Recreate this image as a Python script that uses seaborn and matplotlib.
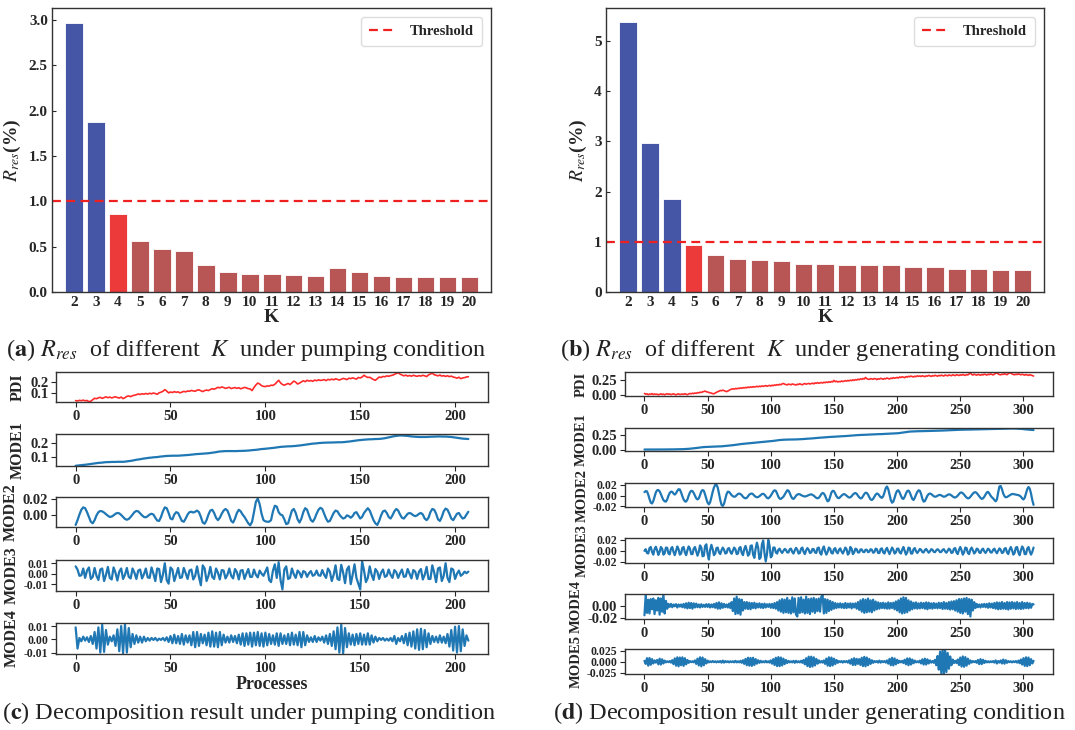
import numpy as np
import matplotlib
matplotlib.use("Agg")
import matplotlib.pyplot as plt
import seaborn as sns

# ---------------- residual ratio vs. number of modes K ----------------
k_values = list(range(2, 21))
rres_pumping = [2.97, 1.87, 0.86, 0.56, 0.47, 0.45, 0.30, 0.22, 0.20, 0.20,
                0.19, 0.18, 0.27, 0.22, 0.18, 0.17, 0.16, 0.16, 0.16]
rres_generating = [5.38, 2.96, 1.85, 0.93, 0.73, 0.65, 0.63, 0.62, 0.56, 0.55,
                   0.53, 0.54, 0.53, 0.50, 0.49, 0.46, 0.45, 0.44, 0.44]
threshold = 1.0
k_best_pumping = 4
k_best_generating = 5

# ---------------- decomposition, pumping condition (208 processes) ----------------
# PDI and MODE1 in units of 1e-3, MODE2..MODE4 in units of 1e-4
pdi_pump = [
    38, 35, 40, 37, 42, 36, 39, 29, 33, 45,
    58, 54, 62, 66, 57, 64, 70, 63, 68, 61,
    66, 71, 64, 60, 68, 55, 63, 74, 78, 72,
    80, 84, 88, 95, 90, 97, 93, 99, 94, 101,
    96, 103, 98, 92, 105, 110, 118, 132, 120, 104,
    112, 107, 115, 109, 113, 104, 110, 117, 113, 120,
    118, 125, 121, 118, 127, 130, 122, 115, 124, 128,
    124, 133, 140, 136, 143, 152, 147, 155, 150, 143,
    148, 152, 141, 146, 150, 143, 148, 139, 145, 151,
    147, 140, 138, 124, 150, 172, 188, 180, 166, 160,
    158, 164, 162, 170, 168, 178, 195, 212, 190, 176,
    170, 178, 185, 175, 190, 205, 196, 180, 188, 198,
    208, 200, 212, 205, 210, 203, 214, 208, 216, 211,
    213, 218, 209, 220, 215, 222, 216, 225, 219, 214,
    221, 228, 224, 218, 230, 226, 233, 227, 222, 236,
    232, 240, 255, 244, 236, 238, 228, 218, 212, 226,
    240, 236, 245, 242, 250, 246, 252, 255, 262, 270,
    278, 265, 258, 250, 256, 248, 253, 247, 255, 250,
    246, 252, 248, 255, 250, 244, 258, 266, 272, 260,
    255, 250, 257, 248, 252, 245, 251, 243, 248, 240,
    236, 230, 238, 226, 232, 235, 240, 243,
]
mode1_pump = [
    35, 36, 38, 39, 41, 42, 44, 46, 48, 50,
    52, 54, 56, 57, 58, 60, 61, 62, 62, 63,
    63, 63, 64, 64, 64, 64, 65, 67, 69, 71,
    73, 76, 79, 81, 83, 86, 88, 90, 92, 94,
    95, 97, 98, 99, 101, 103, 104, 106, 107, 108,
    108, 109, 109, 109, 109, 110, 111, 112, 113, 114,
    115, 117, 118, 120, 121, 122, 123, 124, 125, 126,
    127, 129, 131, 133, 135, 138, 140, 141, 142, 143,
    143, 143, 143, 143, 143, 143, 144, 144, 145, 145,
    146, 147, 148, 150, 151, 152, 154, 156, 158, 159,
    160, 162, 163, 165, 166, 168, 170, 172, 174, 175,
    176, 177, 178, 178, 179, 180, 181, 183, 184, 186,
    188, 190, 192, 194, 196, 198, 199, 200, 202, 203,
    204, 205, 205, 206, 206, 206, 207, 207, 208, 208,
    208, 209, 210, 212, 213, 215, 217, 219, 221, 223,
    224, 226, 227, 228, 229, 230, 230, 231, 232, 232,
    233, 234, 236, 238, 241, 244, 247, 250, 253, 255,
    257, 258, 258, 257, 256, 255, 253, 251, 250, 249,
    248, 247, 247, 247, 247, 247, 248, 249, 249, 250,
    250, 251, 251, 250, 250, 250, 249, 248, 247, 245,
    243, 241, 239, 237, 235, 234, 233, 232,
]
mode2_pump = [
    -120, -60, 10, 70, 100, 90, 40, -20, -80, -100,
    -60, 0, 40, 55, 50, 35, 15, -5, -20, -15,
    0, 20, 30, 25, 5, -20, -45, -55, -45, -20,
    10, 40, 55, 50, 25, 0, -20, -25, -10, 10,
    20, 10, -30, -65, -70, -20, 50, 100, 90, 30,
    -40, -50, 10, 40, 30, -20, -70, -80, -40, 10,
    40, 45, 35, 45, 60, 40, -20, -90, -105, -60,
    10, 60, 70, 30, -30, -60, -30, 20, 60, 80,
    60, 0, -70, -90, -40, 30, 70, 50, 10, -20,
    -60, -100, -125, -80, 40, 170, 210, 140, 20, -60,
    -75, -80, -80, -60, 50, 120, 110, 40, 10, 0,
    -50, -110, -100, -20, 60, 80, 30, -50, -90, -40,
    40, 90, 70, 0, -60, -80, -40, 20, 70, 95,
    80, 20, -40, -80, -70, -20, 30, 60, 50, 10,
    -20, -40, -30, 0, -10, -30, -10, 30, 40, 0,
    -40, -20, 30, 60, 90, 60, 0, -60, -100, -120,
    -70, 0, 50, 60, 30, -20, -40, 0, 50, 80,
    60, 10, -30, -40, -10, 20, 30, 20, 0, -10,
    0, 20, 30, 10, -40, -60, -30, 40, 80, 70,
    20, -50, -70, -20, 50, 85, 70, 20, -40, -60,
    -20, 20, 30, -10, -40, -30, 10, 45,
]
mode3_pump = [
    70, 40, -20, -15, 50, -40, 30, 60, -50, -30,
    55, -20, -60, 40, 50, -70, -10, 65, -40, -55,
    60, 10, -65, 20, 50, -50, -10, 55, -30, -45,
    50, 10, -50, 30, 40, -45, -5, 50, -35, -40,
    60, 0, -70, 50, 45, -80, -10, 100, -60, -95,
    60, 40, -70, -10, 55, -40, -35, 55, 5, -50,
    30, 40, -55, -20, 70, -30, -110, 80, 50, -70,
    -20, 65, -30, -50, 50, 10, -55, 35, 30, -45,
    -10, 50, -20, -45, 45, 15, -55, 30, 35, -50,
    0, 45, -30, -30, 40, -10, -35, 30, 0, -20,
    20, 60, -60, -80, 30, 90, -40, 110, -60, -150,
    40, 70, -50, -40, 50, -5, -40, 30, 10, -35,
    25, 15, -30, 5, 25, -20, -10, 30, -15, -20,
    35, -10, -40, 50, 20, -70, -10, 80, -50, -60,
    85, 10, -90, 40, 70, -100, -10, 90, -40, -95,
    -150, 120, 30, -80, -40, 70, -10, -60, 45, 20,
    -50, 10, 40, -30, -20, 40, -10, -40, 35, 15,
    -40, 5, 40, -30, -25, 45, 0, -45, 35, 20,
    -50, 20, 45, -55, -10, 65, -50, -50, 80, 10,
    -80, 50, 60, -70, -20, 100, -40, -80, 50, 40,
    -50, 0, 30, -20, -5, 20, 5, 20,
]
mode4_pump = [
    90, -70, 10, -15, 20, -10, 15, -20, 25, -35,
    55, -70, 90, -100, 110, -95, 70, -40, 20, -15,
    30, -50, 75, -90, 100, -105, 110, -100, 85, -60,
    40, -35, 30, -25, 20, -25, 20, -15, 10, -10,
    10, -5, 10, -10, 5, -5, 10, -10, 15, -20,
    25, -30, 35, -30, 25, -35, 40, -40, 30, -25,
    30, -45, 55, -60, 55, -50, 40, -30, 35, -45,
    50, -55, 60, -55, 50, -60, 55, -45, 35, -25,
    20, -25, 30, -20, 25, -30, 35, -40, 45, -50,
    45, -40, 50, -55, 50, -45, 55, -50, 45, -55,
    50, -45, 40, -35, 30, -40, 45, -50, 45, -35,
    30, -35, 40, -45, 50, -40, 35, -45, 55, -60,
    55, -45, 30, -20, 15, -20, 25, -20, 15, -10,
    20, -25, 30, -35, 40, -50, 60, -75, 90, -100,
    110, -105, 85, -60, 45, -40, 35, -45, 40, -35,
    45, -40, 35, -40, 45, -40, 30, -25, 20, -15,
    10, -5, 10, -10, 5, -10, 10, -15, 25, -35,
    10, -15, 25, -30, 40, -45, 50, -55, 60, -70,
    75, -80, 80, -75, 70, -60, 45, -35, 25, -20,
    20, -25, 30, -25, 20, -30, 40, -55, 70, -85,
    95, -100, 100, -90, 75, -50, 30, -10,
]

# ---------------- decomposition, generating condition (309 processes) ----------------
pdi_gen = [
    20, 8, 14, -2, 10, 5, 18, 0, 12, 4,
    9, -4, 6, 14, 2, 10, -3, 8, 16, 5,
    12, 0, 7, 15, 3, -4, 9, 13, 1, 6,
    10, 4, 16, 8, -2, 12, 20, 15, 24, 18,
    28, 22, 35, 30, 42, 38, 48, 55, 62, 50,
    45, 38, 30, 22, 18, 15, 28, 40, 52, 60,
    72, 68, 78, 70, 60, 52, 62, 75, 88, 95,
    102, 96, 108, 100, 112, 106, 118, 110, 122, 115,
    126, 120, 132, 124, 135, 128, 140, 132, 138, 145,
    136, 148, 140, 152, 144, 150, 158, 146, 155, 162,
    150, 164, 156, 170, 162, 175, 168, 180, 172, 188,
    195, 182, 176, 170, 184, 178, 172, 186, 180, 175,
    168, 182, 176, 190, 178, 172, 186, 194, 182, 188,
    196, 185, 192, 200, 188, 205, 196, 210, 198, 204,
    212, 202, 216, 208, 220, 212, 225, 215, 230, 222,
    248, 226, 235, 220, 230, 224, 238, 228, 236, 244,
    236, 248, 240, 252, 244, 258, 248, 262, 255, 270,
    260, 275, 266, 282, 272, 300, 278, 270, 265, 280,
    274, 268, 282, 276, 262, 278, 270, 285, 276, 268,
    282, 276, 290, 280, 272, 288, 282, 296, 286, 292,
    300, 290, 308, 298, 312, 304, 296, 315, 306, 320,
    312, 324, 316, 308, 322, 314, 328, 318, 326, 316,
    330, 320, 314, 328, 322, 336, 326, 318, 332, 324,
    338, 330, 322, 336, 328, 340, 332, 325, 342, 334,
    328, 344, 336, 330, 346, 338, 332, 348, 340, 334,
    346, 338, 352, 342, 336, 350, 344, 360, 385, 352,
    342, 356, 348, 340, 354, 346, 338, 352, 344, 358,
    350, 342, 356, 348, 362, 352, 344, 358, 372, 385,
    360, 350, 346, 358, 352, 364, 356, 348, 366, 380,
    375, 360, 352, 346, 358, 350, 362, 354, 346, 356,
    348, 340, 352, 344, 336, 348, 340, 332, 325,
]
mode1_gen = [
    8, 8, 8, 8, 8, 8, 8, 8, 9, 9,
    9, 9, 9, 9, 9, 9, 9, 10, 10, 10,
    10, 10, 11, 11, 11, 12, 12, 13, 13, 14,
    14, 15, 16, 17, 19, 20, 22, 24, 26, 28,
    30, 33, 36, 39, 42, 45, 47, 49, 50, 51,
    52, 53, 54, 54, 55, 56, 57, 58, 59, 60,
    60, 61, 63, 65, 67, 69, 71, 73, 75, 77,
    80, 83, 86, 89, 92, 95, 98, 100, 102, 104,
    105, 107, 109, 111, 113, 115, 117, 119, 121, 123,
    125, 127, 129, 131, 133, 135, 137, 139, 141, 143,
    145, 148, 151, 154, 157, 160, 163, 165, 167, 169,
    170, 171, 172, 172, 173, 173, 174, 174, 175, 175,
    175, 176, 177, 178, 179, 180, 182, 184, 185, 187,
    188, 190, 191, 193, 195, 197, 199, 201, 203, 204,
    205, 207, 208, 210, 212, 213, 215, 216, 218, 219,
    220, 221, 222, 224, 225, 226, 227, 228, 230, 231,
    232, 234, 235, 237, 239, 240, 242, 244, 246, 247,
    248, 249, 250, 251, 252, 253, 254, 255, 256, 257,
    258, 259, 259, 260, 261, 262, 262, 263, 264, 264,
    265, 266, 267, 268, 269, 270, 271, 272, 273, 274,
    275, 278, 281, 284, 287, 290, 293, 296, 299, 302,
    305, 306, 307, 308, 309, 309, 310, 311, 311, 312,
    312, 313, 313, 314, 314, 315, 316, 316, 317, 317,
    318, 319, 319, 320, 321, 321, 322, 323, 323, 324,
    325, 326, 327, 328, 329, 330, 331, 332, 333, 334,
    335, 335, 336, 336, 337, 337, 338, 338, 339, 339,
    340, 340, 341, 341, 342, 342, 343, 343, 344, 344,
    345, 345, 346, 346, 347, 347, 348, 348, 349, 349,
    350, 350, 351, 351, 352, 352, 353, 353, 354, 354,
    355, 355, 355, 354, 354, 353, 352, 351, 350, 348,
    345, 343, 341, 339, 337, 335, 333, 331, 330,
]
mode2_gen = [
    65, 85, 80, 20, -60, -130, -145, -100, -20, 60,
    100, 105, 80, 30, -30, -80, -105, -110, -70, 0,
    50, 75, 70, 40, 20, 45, 90, 120, 115, 60,
    -10, -70, -105, -110, -70, 0, 60, 90, 85, 50,
    0, -50, -70, -50, 10, 80, 105, 90, 20, -60,
    -130, -160, -120, -30, 70, 150, 200, 205, 150, 40,
    -80, -170, -190, -150, -60, 30, 75, 70, 40, 10,
    -10, -20, -15, 10, 30, 40, 30, 10, -20, -40,
    -50, -40, -10, 20, 35, 40, 25, 0, -20, -30,
    -25, -10, 10, 30, 35, 20, -10, -40, -50, -30,
    0, 40, 80, 100, 90, 40, -20, -55, -60, -40,
    -20, 20, 60, 100, 95, 50, -10, -50, -60, -35,
    0, 20, 30, 25, 10, 0, -10, -15, -10, 0,
    10, 20, 25, 15, 0, -20, -40, -50, -40, -10,
    30, 50, 40, 0, -60, -105, -90, -20, 60, 90,
    85, 40, -10, -40, -45, -25, 0, 20, 30, 20,
    0, -20, -35, -30, -10, 20, 40, 50, 35, 0,
    -30, -50, -45, -10, 30, 55, 50, 20, -30, -70,
    -80, -60, -20, 20, 40, 30, 0, -30, -40, -10,
    60, 140, 170, 120, 20, -80, -130, -110, -40, 40,
    90, 100, 60, 0, -50, -60, -20, 40, 85, 95,
    60, 0, -60, -80, -40, 20, 70, 100, 90, 30,
    -60, -110, -100, -50, 0, 30, 40, 30, 10, -10,
    -20, -15, 0, 10, 15, 5, -10, -20, -15, 0,
    15, 25, 20, 5, -15, -30, -35, -20, 0, 30,
    55, 60, 45, 20, -10, -35, -50, -45, -20, 10,
    40, 60, 65, 50, 20, -10, -40, -60, -50, -20,
    20, 60, 70, 40, 0, -30, -50, -80, -105, -70,
    60, 170, 180, 120, 40, -10, -30, -25, -10, 5,
    20, 30, 30, 25, 20, 15, 10, 0, -20, -50,
    -70, -40, 40, 120, 160, 130, 40, -80, -170,
]
mode3_gen = [
    0, 30, -40, -50, 50, 70, -20, -70, 30, 75,
    10, -75, -20, 70, 40, -70, -45, 60, 55, -50,
    -65, 40, 70, -20, -80, 0, 80, 30, -70, -50,
    55, 70, -30, -80, 10, 80, 40, -60, -60, 40,
    70, -10, -90, -20, 100, 60, -100, -90, 90, 120,
    -60, -160, 20, 110, 30, -80, -50, 50, 60, -30,
    -60, 10, 60, 20, -50, -40, 40, 50, -20, -55,
    0, 60, 30, -60, -50, 50, 70, -40, -80, 30,
    90, 10, -90, -60, 90, 100, -70, -130, 40, 150,
    60, -150, -120, 120, 190, -40, -195, -60, 200, 100,
    -120, -90, 60, 60, -30, -50, 20, 40, -10, -40,
    0, 35, 20, -30, -30, 30, 40, -20, -50, 10,
    55, 20, -50, -40, 40, 60, -20, -60, 10, 50,
    20, -40, -30, 35, 30, -30, -40, 50, 60, -40,
    -70, 30, 80, -10, -70, -20, 60, 40, -40, -50,
    30, 50, -20, -45, 20, 45, -10, -50, 0, 60,
    30, -70, -40, 70, 40, -60, -30, 40, 30, -30,
    -30, 25, 25, -20, -25, 20, 20, -25, -15, 30,
    20, -35, -25, 40, 30, -40, -40, 35, 45, -30,
    -50, 20, 55, -10, -60, 0, 60, 20, -50, -30,
    40, 40, -30, -50, 20, 70, 0, -70, -30, 60,
    50, -50, -50, 30, 50, -10, -40, -5, 35, 20,
    -25, -30, 15, 35, 0, -35, -10, 30, 20, -20,
    -25, 10, 30, 10, -25, -20, 20, 30, -10, -35,
    0, 40, 20, -40, -30, 40, 50, -30, -60, 20,
    70, 10, -70, -30, 60, 50, -40, -60, 20, 60,
    10, -50, -20, 40, 30, -30, -40, 20, 40, -10,
    -40, 0, 40, 20, -30, -30, 20, 40, -10, -45,
    0, 45, 20, -40, -30, 40, 50, -30, -60, 20,
    70, 10, -70, -40, 60, 70, -30, -80, 10, 80,
    40, -60, -60, 40, 70, -10, -70, -20, 60,
]
mode4_gen = [
    -160, 180, -120, 100, -130, 110, -60, 120, -140, 90,
    -80, 130, -150, 120, -100, 190, -130, 80, -50, 30,
    -20, 30, -25, 20, -10, 25, -30, 20, -15, 20,
    -25, 30, -35, 40, -45, 50, -40, 45, -50, 40,
    -30, 35, -25, 20, -30, 25, -20, 15, -20, 25,
    -20, 25, -30, 20, -25, 30, -35, 45, -50, 55,
    -50, 40, -35, 30, -25, 20, -30, 35, -40, 60,
    -90, 120, -140, 150, -130, 110, -150, 100, -80, 60,
    -50, 60, -55, 50, -60, 45, -40, 50, -45, 35,
    -30, 40, -35, 30, -40, 35, -30, 25, -20, 30,
    -35, 30, -40, 45, -50, 60, -80, 90, -100, 110,
    -120, 100, -110, 130, -120, 90, -130, 140, -110, 120,
    -150, -180, 130, -120, 140, -110, 100, -130, 150, -120,
    110, -140, 120, -100, 130, -120, 110, -90, 120, -100,
    150, 180, -130, 110, -120, 100, -90, 80, -70, 60,
    -50, 45, -40, 35, -30, 40, -35, 30, -40, 45,
    -40, 35, -30, 40, -45, 35, -30, 40, -50, 60,
    -70, 90, -100, 110, -120, 100, -110, 120, -100, 90,
    -110, 100, -80, 70, -60, 55, -50, 45, -40, 50,
    -45, 40, -50, 55, -50, 45, -40, 50, -60, 70,
    -80, 90, -110, 120, -130, 140, -120, 130, -110, 90,
    -80, 70, -60, 50, -45, 55, -50, 40, -45, 50,
    -40, 45, -50, 55, -60, 50, -45, 40, -50, 45,
    -40, 35, -45, 50, -40, 45, -55, 60, -50, 45,
    -55, 60, -65, 70, -60, 75, -80, 90, -100, 110,
    -120, 110, -130, 120, -100, 130, -140, 110, -180, 100,
    -80, 60, -40, 30, -25, 20, -30, 25, -20, 30,
    -25, 30, -35, 40, -30, 35, -40, 45, -50, 55,
    -60, 50, -55, 60, -50, 45, -55, 60, -65, 55,
    -50, 60, -45, 50, -55, 60, -50, 45, -55, 60,
    -50, 45, -40, 50, -45, 40, -35, 30, 20,
]
mode5_gen = [
    20, -50, 80, -90, 85, -70, 60, -40, 30, -20,
    40, -60, 70, -65, 55, -40, 25, -15, 10, -10,
    15, -20, 35, -55, 75, -90, 100, -105, 95, -80,
    100, -95, 80, -60, 40, -25, 15, -10, 10, -15,
    30, -50, 70, -85, 100, -105, 95, -80, 60, -40,
    25, -15, 10, -10, 15, -10, 10, -15, 10, -10,
    15, -20, 25, -20, 15, -10, 10, -15, 10, -10,
    10, -15, 20, -15, 10, -15, 20, -25, 35, -50,
    65, -80, 90, -90, 85, -95, 90, -75, 60, -45,
    35, -25, 20, -15, 10, -15, 20, -15, 10, -20,
    30, -45, 60, -75, 90, -100, 105, -100, 95, -85,
    70, -55, 40, -30, 20, -15, 10, -15, 20, -25,
    20, -15, 10, -15, 20, -25, 40, -60, 80, -100,
    115, -120, 115, -110, 100, -85, 65, -45, 30, -20,
    15, -20, 30, -50, 70, -90, 100, -100, 95, -85,
    70, -55, 40, -25, 15, -10, 15, -20, 15, -10,
    15, -20, 30, -45, 60, -75, 80, -75, 65, -50,
    60, -75, 90, -100, 110, -105, 95, -80, 65, -50,
    35, -25, 15, -10, 15, -20, 25, -20, 15, -10,
    15, -20, 30, -45, 65, -80, 90, -85, 75, -60,
    45, -30, 20, -15, 20, -30, 45, -60, 75, -80,
    75, -65, 50, -35, 25, -15, 10, -15, 25, -40,
    55, -65, 70, -65, 55, -40, 30, -20, 15, -25,
    45, -80, 130, -180, 230, -265, 280, -275, 260, -235,
    200, -160, 120, -80, 50, -30, 20, -30, 50, -75,
    95, -110, 120, -115, 105, -90, 70, -50, 30, -20,
    15, -10, 15, -25, 40, -55, 60, -55, 45, -30,
    20, -15, 10, -15, 10, -10, 15, -20, 30, -40,
    15, -20, 30, -40, 50, -45, 35, -25, 15, -10,
    10, -15, 10, -10, 15, -20, 25, -35, 50, -65,
    80, -95, 100, -100, 95, -80, 60, -40, 20,
]

MILLI = 1e-3
DECI_MILLI = 1e-4

# ---------------- style ----------------
sns.set_style("ticks")
plt.rcParams["font.family"] = ["Liberation Serif", "DejaVu Serif"]
plt.rcParams["mathtext.fontset"] = "stix"
plt.rcParams["axes.unicode_minus"] = False

BLUE = "#4656A6"
RED = "#EC3A3A"
BROWN = "#B85656"
LINE_BLUE = "#1f77b4"
PDI_RED = "#FF2A2A"
SPINE = "#333333"

W, H = 1075, 730
fig = plt.figure(figsize=(W / 100, H / 100), dpi=100)


def rect(x0, y0, x1, y1):
    return [x0 / W, 1 - y1 / H, (x1 - x0) / W, (y1 - y0) / H]


def bold_ticks(ax):
    for t in ax.get_xticklabels() + ax.get_yticklabels():
        t.set_fontweight("bold")


def bar_panel(box, values, k_best, yticks, ylim):
    ax = fig.add_axes(rect(*box))
    labels = [str(k) for k in k_values]
    colors = [BLUE if k < k_best else (RED if k == k_best else BROWN) for k in k_values]
    sns.barplot(x=labels, y=values, hue=labels, hue_order=labels, order=labels,
                palette=colors, saturation=1, legend=False, width=0.8,
                edgecolor="white", linewidth=0.6, ax=ax)
    ax.axhline(threshold, color="#EE2020", ls="--", lw=1.6, dashes=(4, 2.4),
               label="Threshold")
    ax.set_xlim(-1.0, len(k_values) - 0.02)
    ax.set_ylim(*ylim)
    ax.set_yticks(yticks)
    ax.tick_params(direction="in", length=3, labelsize=11, width=0.8, pad=3)
    bold_ticks(ax)
    for s in ax.spines.values():
        s.set_color(SPINE)
        s.set_linewidth(1.0)
    ax.set_xlabel("K", fontsize=14, fontweight="bold", labelpad=0)
    ax.set_ylabel(r"$R_{res}$(%)", fontsize=14, fontweight="bold", labelpad=4)
    ax.legend(loc="upper right", prop={"weight": "bold", "size": 10.5,
                                       "family": "Liberation Serif"},
              handlelength=1.9, borderpad=0.55, framealpha=1,
              edgecolor="#DDDDDD", borderaxespad=0.6, handletextpad=0.9)
    return ax


bar_panel((52, 8, 491, 292), rres_pumping, k_best_pumping,
          [0, 0.5, 1.0, 1.5, 2.0, 2.5, 3.0], (0, 3.13))
bar_panel((606, 8, 1044, 292), rres_generating, k_best_generating,
          [0, 1, 2, 3, 4, 5], (0, 5.66))


def series_panel(box, values, unit, color, label, ylim, yticks, xmax_ticks,
                 lw=1.6, xlabel=None, label_size=11.5):
    ax = fig.add_axes(rect(*box))
    y = np.asarray(values, dtype=float) * unit
    x = np.arange(len(y))
    sns.lineplot(x=x, y=y, color=color, linewidth=lw, estimator=None, ax=ax)
    n = len(y) - 1
    ax.set_xlim(-0.05 * n, n * 1.05)
    ax.set_ylim(*ylim)
    ax.set_yticks(yticks)
    ax.set_xticks(np.arange(0, xmax_ticks + 1, 50))
    ax.tick_params(axis="x", labelsize=10.5, length=3.5, width=0.8, pad=2)
    ysize = 10.5 if len(yticks) < 3 else 8.5
    ax.tick_params(axis="y", labelsize=ysize, length=3.5, width=0.8, pad=2)
    bold_ticks(ax)
    for s in ax.spines.values():
        s.set_color(SPINE)
        s.set_linewidth(1.0)
    ax.set_ylabel(label, fontsize=label_size, fontweight="bold", labelpad=3)
    if xlabel:
        ax.set_xlabel(xlabel, fontsize=13, fontweight="bold", labelpad=1)
    else:
        ax.set_xlabel("")
    return ax


# pumping condition, left column
cx0, cx1 = 56, 488
series_panel((cx0, 372, cx1, 402), pdi_pump, MILLI, PDI_RED, "PDI",
             (0.026, 0.283), [0.1, 0.2], 200, lw=1.2)
series_panel((cx0, 434, cx1, 466), mode1_pump, MILLI, LINE_BLUE, "MODE1",
             (0.033, 0.269), [0.1, 0.2], 200)
series_panel((cx0, 497, cx1, 527), mode2_pump, DECI_MILLI, LINE_BLUE, "MODE2",
             (-0.0146, 0.023), [0.0, 0.02], 200)
series_panel((cx0, 560, cx1, 591), mode3_pump, DECI_MILLI, LINE_BLUE, "MODE3",
             (-0.0165, 0.0131), [-0.01, 0.0, 0.01], 200)
series_panel((cx0, 623, cx1, 654), mode4_pump, DECI_MILLI, LINE_BLUE, "MODE4",
             (-0.0111, 0.0123), [-0.01, 0.0, 0.01], 200, xlabel="Processes")

# generating condition, right column
dx0, dx1 = 625, 1053
gs = 10.5
series_panel((dx0, 372, dx1, 396), pdi_gen, MILLI, PDI_RED, "PDI",
             (-0.024, 0.395), [0.0, 0.25], 300, lw=1.2, label_size=gs)
series_panel((dx0, 428, dx1, 451), mode1_gen, MILLI, LINE_BLUE, "MODE1",
             (-0.016, 0.364), [0.0, 0.25], 300, label_size=gs)
series_panel((dx0, 483, dx1, 507), mode2_gen, DECI_MILLI, LINE_BLUE, "MODE2",
             (-0.021, 0.0235), [-0.02, 0.0, 0.02], 300, label_size=gs)
series_panel((dx0, 538, dx1, 563), mode3_gen, DECI_MILLI, LINE_BLUE, "MODE3",
             (-0.0224, 0.0236), [-0.02, 0.0, 0.02], 300, label_size=gs)
series_panel((dx0, 594, dx1, 619), mode4_gen, DECI_MILLI, LINE_BLUE, "MODE4",
             (-0.0222, 0.0195), [-0.02, 0.0], 300, label_size=gs)
series_panel((dx0, 649, dx1, 674), mode5_gen, DECI_MILLI, LINE_BLUE, "MODE5",
             (-0.028, 0.029), [-0.025, 0.0, 0.025], 300, label_size=gs)

# captions
cap_style = dict(ha="center", va="center", fontsize=17.5, fontweight="normal",
                 family=["Liberation Serif", "DejaVu Serif"], color="#222222")
fig.text(246 / W, 1 - 350 / H,
         r"($\mathbf{a}$) $R_{res}$  of different  $K$  under pumping condition", **cap_style)
fig.text(809 / W, 1 - 350 / H,
         r"($\mathbf{b}$) $R_{res}$  of different  $K$  under generating condition", **cap_style)
fig.text(249 / W, 1 - 713 / H,
         r"($\mathbf{c}$) Decomposition result under pumping condition", **cap_style)
fig.text(809 / W, 1 - 713 / H,
         r"($\mathbf{d}$) Decomposition result under generating condition", **cap_style)

fig.savefig("out.png", dpi=100)
